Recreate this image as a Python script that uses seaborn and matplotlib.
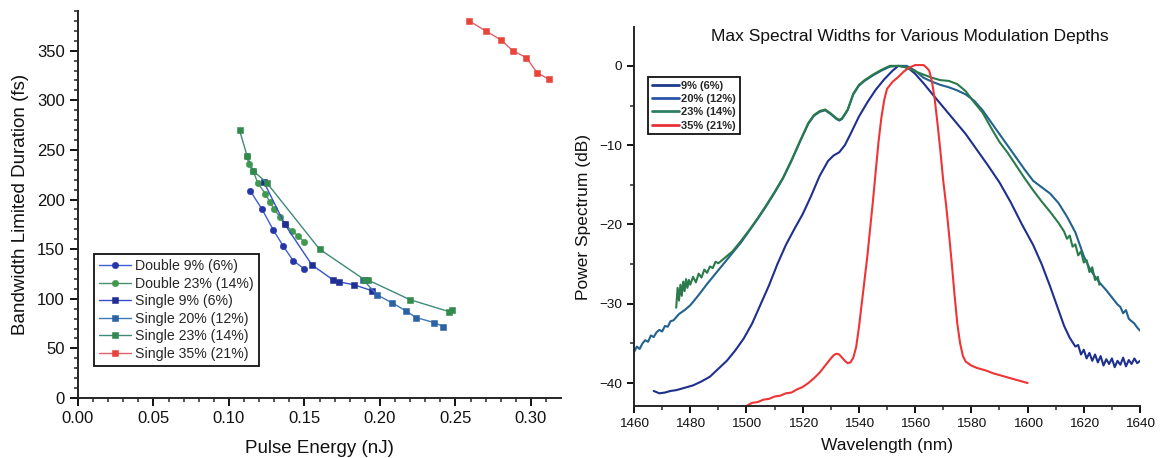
import numpy as np
import pandas as pd
import matplotlib
matplotlib.use("Agg")
import matplotlib.pyplot as plt
from matplotlib.ticker import MultipleLocator
import seaborn as sns

# ---------------- Left panel data ----------------
d9_x = [0.114, 0.122, 0.1295, 0.136, 0.1425, 0.150]
d9_y = [209, 190, 169, 153, 138.5, 130]
d23_x = [0.112, 0.113, 0.116, 0.119, 0.124, 0.127, 0.130, 0.134, 0.137, 0.142, 0.146, 0.150]
d23_y = [244, 236, 229, 217, 206, 198, 190, 182, 175, 168, 163, 157]
s9_x = [0.123, 0.137, 0.155, 0.169, 0.173, 0.183, 0.195]
s9_y = [218, 175, 134, 119, 117, 114, 108]
s20_x = [0.189, 0.198, 0.208, 0.217, 0.224, 0.236, 0.242]
s20_y = [119, 104, 96, 88, 81, 76, 72]
s23_x = [0.107, 0.112, 0.116, 0.125, 0.160, 0.190, 0.192, 0.220, 0.246, 0.248]
s23_y = [270, 244, 229, 217, 150, 119, 119, 99, 87, 89]
s35_x = [0.259, 0.270, 0.280, 0.288, 0.297, 0.304, 0.312]
s35_y = [380, 370, 361, 350, 343, 328, 321]

left_labels = ["Double 9% (6%)", "Double 23% (14%)", "Single 9% (6%)",
               "Single 20% (12%)", "Single 23% (14%)", "Single 35% (21%)"]

# ---------------- Right panel data ----------------
wl_9 = [1467, 1469, 1471, 1473, 1475, 1478, 1481, 1484, 1487, 1490, 1493, 1496, 1499, 1502,
        1505, 1508, 1511, 1514, 1517, 1520, 1523, 1526, 1529, 1531, 1533, 1535, 1537, 1540,
        1543, 1546, 1549, 1552, 1554, 1556, 1558, 1560, 1563, 1566, 1570, 1574, 1578, 1582,
        1586, 1590, 1594, 1598, 1602, 1605, 1608, 1611, 1613, 1615, 1617, 1618, 1619, 1620,
        1621, 1622, 1623, 1624, 1625, 1626, 1627, 1628, 1629, 1630, 1631, 1632, 1633, 1634,
        1635, 1636, 1637, 1638, 1639, 1640]
db_9 = [-41.0, -41.3, -41.2, -41.0, -40.9, -40.6, -40.3, -39.8, -39.2, -38.2, -37.2, -35.9,
        -34.4, -32.5, -30.1, -27.7, -25.0, -22.6, -20.6, -18.7, -16.4, -13.9, -12.0, -11.3,
        -10.9, -10.0, -8.6, -6.4, -4.6, -3.0, -1.7, -0.6, 0.0, -0.1, -0.4, -1.0, -2.2, -3.5,
        -5.2, -6.9, -8.6, -10.6, -12.6, -14.7, -17.2, -20.0, -22.6, -25.0, -27.8, -30.8,
        -32.8, -34.3, -35.4, -35.2, -36.4, -35.8, -36.9, -36.2, -37.2, -36.4, -37.4, -36.6,
        -37.8, -37.0, -37.6, -36.9, -38.0, -37.2, -37.7, -36.8, -37.9, -37.1, -37.6, -36.9,
        -37.5, -37.2]

wl_20 = [1460, 1461, 1462, 1463, 1464, 1465, 1466, 1467, 1468, 1469, 1470, 1471, 1472, 1473,
         1474, 1476, 1478, 1480, 1483, 1486, 1489, 1492, 1495, 1498, 1501, 1504, 1507, 1510,
         1513, 1516, 1519, 1522, 1524, 1526, 1528, 1530, 1532, 1533, 1534, 1536, 1538, 1540,
         1542, 1545, 1548, 1551, 1554, 1557, 1560, 1563, 1566, 1569, 1572, 1575, 1578, 1581,
         1584, 1587, 1590, 1593, 1596, 1599, 1602, 1605, 1608, 1611, 1614, 1617, 1620, 1622,
         1624, 1626, 1628, 1630, 1632, 1633, 1634, 1635, 1636, 1637, 1638, 1639, 1640]
db_20 = [-36.1, -35.4, -35.7, -35.0, -34.6, -34.8, -34.0, -34.2, -33.6, -33.3, -33.5, -32.8,
         -32.9, -32.2, -32.1, -31.3, -30.8, -30.2, -28.9, -27.5, -26.2, -24.9, -23.6, -22.3,
         -20.8, -19.3, -17.7, -16.0, -14.2, -12.0, -9.6, -7.3, -6.3, -5.8, -5.6, -6.1, -6.7,
         -6.9, -6.7, -5.6, -3.6, -2.5, -1.9, -1.2, -0.6, -0.1, 0.0, 0.0, -0.6, -1.5, -2.0,
         -2.4, -2.7, -3.1, -3.6, -4.4, -5.6, -7.1, -8.6, -10.1, -11.6, -13.1, -14.5, -15.3,
         -16.1, -17.3, -19.0, -21.0, -24.0, -25.5, -26.6, -27.5, -28.3, -29.2, -30.1, -30.4,
         -31.2, -30.8, -31.9, -32.2, -32.5, -33.0, -33.4]

wl_23 = [1475, 1475.5, 1476, 1476.5, 1477, 1477.5, 1478, 1478.5, 1479, 1479.5, 1480, 1481,
         1482, 1483, 1484, 1485, 1486, 1487, 1488, 1489, 1490, 1492, 1495, 1498, 1501, 1504,
         1507, 1510, 1513, 1516, 1519, 1522, 1524, 1526, 1528, 1530, 1532, 1533, 1534, 1536,
         1538, 1540, 1542, 1545, 1548, 1551, 1554, 1557, 1560, 1563, 1566, 1569, 1572, 1575,
         1578, 1581, 1584, 1587, 1590, 1593, 1596, 1599, 1602, 1605, 1608, 1611, 1613, 1614,
         1615, 1616, 1617, 1618, 1619, 1620, 1621, 1622, 1623, 1624, 1625, 1625.5]
db_23 = [-30.5, -28.0, -29.6, -27.6, -29.0, -27.2, -28.4, -26.9, -28.0, -27.0, -27.6, -26.6,
         -27.3, -26.2, -26.7, -25.7, -26.1, -25.3, -25.5, -24.7, -24.9, -24.3, -23.4, -22.1,
         -20.7, -19.2, -17.6, -15.9, -14.1, -11.9, -9.5, -7.2, -6.2, -5.7, -5.5, -6.0, -6.6,
         -6.8, -6.6, -5.5, -3.5, -2.4, -1.8, -1.1, -0.5, 0.0, 0.0, -0.2, -0.7, -1.1, -1.5,
         -1.8, -1.9, -2.3, -3.2, -4.6, -5.9, -7.8, -9.6, -11.0, -12.6, -14.2, -15.7, -17.1,
         -18.4, -19.8, -20.9, -21.8, -21.4, -22.8, -22.5, -23.9, -23.4, -24.8, -24.5, -26.0,
         -25.4, -27.0, -26.6, -27.6]

wl_35 = [1500, 1502, 1504, 1506, 1508, 1510, 1512, 1514, 1516, 1518, 1520, 1522, 1524, 1526,
         1528, 1530, 1531, 1532, 1533, 1534, 1535, 1536, 1537, 1538, 1539, 1540, 1541, 1542,
         1543, 1544, 1545, 1546, 1547, 1548, 1549, 1550, 1552, 1554, 1556, 1558, 1560, 1563,
         1564, 1565, 1566, 1567, 1568, 1569, 1570, 1571, 1572, 1573, 1574, 1575, 1576, 1577,
         1578, 1580, 1582, 1585, 1588, 1591, 1594, 1597, 1600]
db_35 = [-42.9, -42.5, -42.4, -42.1, -42.0, -41.7, -41.6, -41.3, -41.2, -40.8, -40.5, -40.0,
         -39.4, -38.7, -37.8, -36.9, -36.5, -36.3, -36.4, -36.8, -37.2, -37.5, -37.4, -36.8,
         -35.5, -33.0, -30.0, -27.0, -24.0, -20.5, -17.0, -13.2, -9.5, -6.5, -4.3, -2.9,
         -2.0, -1.4, -0.7, -0.2, 0.1, 0.1, -0.2, -0.6, -2.0, -4.3, -7.4, -10.8, -14.5, -17.5,
         -21.0, -24.8, -28.8, -32.5, -35.0, -36.6, -37.3, -37.8, -38.1, -38.4, -38.8, -39.1,
         -39.4, -39.7, -40.0]

right_labels = ["9% (6%)", "20% (12%)", "23% (14%)", "35% (21%)"]

# ---------------- Figure ----------------
sns.set_theme(style="ticks")
plt.rcParams["font.family"] = ["Liberation Sans", "DejaVu Sans"]
plt.rcParams["axes.linewidth"] = 1.4

fig = plt.figure(figsize=(11.64, 4.58), dpi=100)
axL = fig.add_axes([0.0670, 0.1310, 0.4149, 0.8450])
axR = fig.add_axes([0.5447, 0.1135, 0.4347, 0.8275])

left_series = [
    (d9_x, d9_y, "#2436a8", "#3b5fd6", "o", 4.6),
    (d23_x, d23_y, "#3f9a4c", "#4d8e70", "o", 4.6),
    (s9_x, s9_y, "#1f2f96", "#3550c8", "s", 4.2),
    (s20_x, s20_y, "#2b63a6", "#3f78b8", "s", 4.2),
    (s23_x, s23_y, "#338a4e", "#3f8a78", "s", 4.2),
    (s35_x, s35_y, "#e8443a", "#e0606e", "s", 4.2),
]
for (xs, ys, mc, lc, mk, ms), lab in zip(left_series, left_labels):
    df = pd.DataFrame({"x": xs, "y": ys})
    sns.lineplot(data=df, x="x", y="y", ax=axL, estimator=None, sort=False,
                 color=lc, lw=1.0, marker=mk, markersize=ms, markerfacecolor=mc,
                 markeredgecolor=mc, markeredgewidth=0.4, label=lab)

axL.set_xlim(0, 0.3199)
axL.set_ylim(0, 390)
axL.xaxis.set_major_locator(MultipleLocator(0.05))
axL.xaxis.set_minor_locator(MultipleLocator(0.01))
axL.yaxis.set_major_locator(MultipleLocator(50))
axL.yaxis.set_minor_locator(MultipleLocator(10))
axL.xaxis.set_major_formatter(matplotlib.ticker.FormatStrFormatter("%.2f"))
axL.tick_params(which="major", direction="out", length=6, width=1.4, labelsize=12, colors="#111111")
axL.tick_params(which="minor", direction="out", length=3, width=1.1)
for s in ["top", "right"]:
    axL.spines[s].set_visible(False)
axL.set_xlabel("Pulse Energy (nJ)", fontsize=13.5, labelpad=10, color="#111111")
axL.set_ylabel("Bandwidth Limited Duration (fs)", fontsize=13.5, labelpad=6, color="#111111")
h, l = axL.get_legend_handles_labels()
legL = axL.legend(h, l, loc="lower left", bbox_to_anchor=(0.034, 0.083), borderaxespad=0,
                  fontsize=10.2, frameon=True, fancybox=False, edgecolor="#111111",
                  framealpha=1, handlelength=2.2, handletextpad=0.35, labelspacing=0.25,
                  borderpad=0.35, numpoints=1)
legL.get_frame().set_linewidth(1.3)

right_series = [
    (wl_9, db_9, "#1e2f8e"),
    (wl_20, db_20, "#22628e"),
    (wl_23, db_23, "#2b7a4c"),
    (wl_35, db_35, "#ee3535"),
]
legend_cols = ["#1e3a8c", "#2a55a8", "#2e7f62", "#e8303a"]
for (xs, ys, c), lab in zip(right_series, right_labels):
    df = pd.DataFrame({"wl": xs, "db": ys})
    sns.lineplot(data=df, x="wl", y="db", ax=axR, estimator=None, sort=False,
                 color=c, lw=1.5, label=lab)

axR.set_xlim(1460, 1640)
axR.set_ylim(-42.9, 4.9)
axR.xaxis.set_major_locator(MultipleLocator(20))
axR.xaxis.set_minor_locator(MultipleLocator(10))
axR.yaxis.set_major_locator(MultipleLocator(10))
axR.yaxis.set_minor_locator(MultipleLocator(5))
axR.tick_params(which="major", direction="out", length=5, width=1.4, labelsize=9.7, colors="#111111")
axR.tick_params(which="minor", direction="out", length=3, width=1.1)
for s in ["top", "right"]:
    axR.spines[s].set_visible(False)
axR.set_xlabel("Wavelength (nm)", fontsize=12.5, labelpad=6, color="#111111")
axR.set_ylabel("Power Spectrum (dB)", fontsize=12.5, labelpad=6, color="#111111")
h, l = axR.get_legend_handles_labels()
legR = axR.legend(h, l, loc="upper left", bbox_to_anchor=(0.028, 0.869), borderaxespad=0,
                  prop={"size": 8, "weight": "bold"}, frameon=True, fancybox=False,
                  edgecolor="#111111", framealpha=1, handlelength=2.4, handletextpad=0.2,
                  labelspacing=0.3, borderpad=0.35)
legR.get_frame().set_linewidth(1.3)
for line, c in zip(legR.get_lines(), legend_cols):
    line.set_color(c)
    line.set_linewidth(2.0)

fig.text(910 / 1164, 1 - 37 / 458, "Max Spectral Widths for Various Modulation Depths",
         ha="center", va="center", fontsize=12.5, color="#111111")

fig.savefig("out.png", dpi=100)
